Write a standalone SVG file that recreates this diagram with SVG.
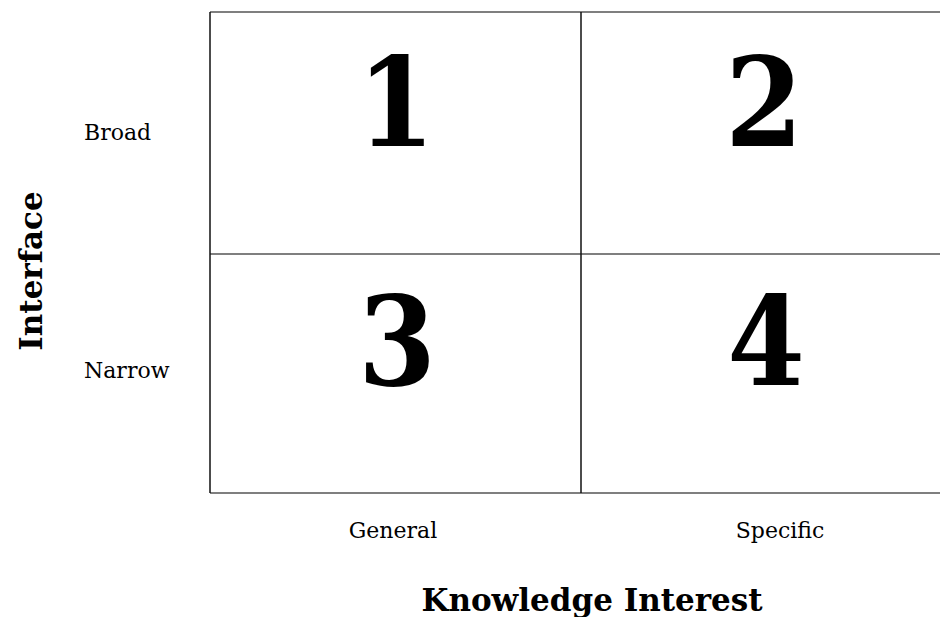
<svg xmlns="http://www.w3.org/2000/svg" width="940" height="617" viewBox="0 0 940 617">
<style>
.h{stroke:#555;stroke-width:1.5}
.v{stroke:#111;stroke-width:1.5}
.lbl{font-family:"DejaVu Serif",serif;font-size:22px;fill:#000}
.num{font-family:"DejaVu Serif",serif;font-size:124px;font-weight:bold;font-stretch:condensed;fill:#000;text-anchor:middle}
.axis{font-family:"DejaVu Serif",serif;font-size:31px;font-weight:bold;fill:#000;text-anchor:middle}
</style>
<rect width="940" height="617" fill="#fff"/>
<g id="grid">
<line class="h" x1="210" y1="12" x2="940" y2="12"/>
<line class="h" x1="210" y1="254" x2="940" y2="254"/>
<line class="h" x1="210" y1="493" x2="940" y2="493"/>
<line class="v" x1="210" y1="12" x2="210" y2="493"/>
<line class="v" x1="581" y1="12" x2="581" y2="493"/>
</g>
<g id="q1"><text class="num" x="396" y="146">1</text></g>
<g id="q2"><text class="num" x="764" y="146">2</text></g>
<g id="q3"><text class="num" x="397" y="385">3</text></g>
<g id="q4"><text class="num" x="766" y="385">4</text></g>
<g id="labels">
<text class="lbl" x="84" y="140">Broad</text>
<text class="lbl" x="84" y="378">Narrow</text>
<text class="lbl" x="393" y="538" text-anchor="middle">General</text>
<text class="lbl" x="780" y="538" text-anchor="middle">Specific</text>
<text class="axis" transform="translate(42,271) rotate(-90)">Interface</text>
<text class="axis" x="592" y="611">Knowledge Interest</text>
</g>
</svg>
